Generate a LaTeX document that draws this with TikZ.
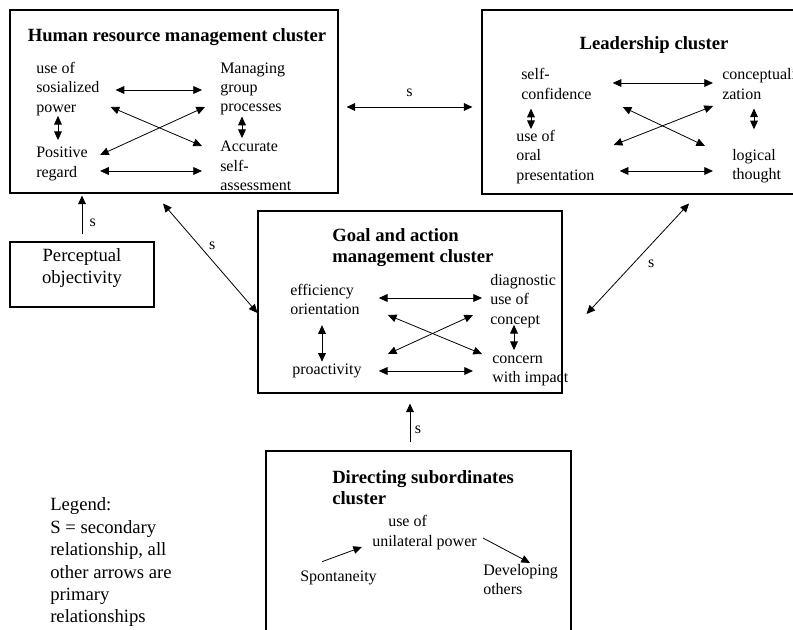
\documentclass[tikz,border=0pt]{standalone}
\usepackage{fontspec}
\setmainfont{Liberation Serif}
\usetikzlibrary{arrows.meta, calc, fit}

\begin{document}
\begin{tikzpicture}[x=0.75pt, y=-0.75pt,
    cluster/.style={rectangle, draw, line width=0.8pt, inner sep=0pt},
    head/.style={font=\bfseries\fontsize{14}{16}\selectfont, align=left, inner sep=0pt},
    item/.style={font=\fontsize{12}{14.5}\selectfont, align=left, inner sep=0pt, anchor=west},
    sec/.style={font=\fontsize{12}{14}\selectfont},
    twoway/.style={line width=0.6pt, {Triangle[length=6.5pt,width=5.8pt]}-{Triangle[length=6.5pt,width=5.8pt]}},
    oneway/.style={line width=0.6pt, -{Triangle[length=6.5pt,width=5.8pt]}}]
  \path[use as bounding box, fill=white] (0,0) rectangle (793,630);

  % Boxes
  \node (hrm) [cluster, fit={(10,10) (338,193)}] {};
  \node (ld) [cluster, fit={(482,10) (800,194)}] {};
  \node (goal) [cluster, fit={(258,211) (562,393)}] {};
  \node (dir) [cluster, fit={(266,451) (571,660)}] {};
  \node (perc) [cluster, fit={(10,242) (154,307)}, font=\fontsize{14}{16.5}\selectfont, align=center] {Perceptual\\objectivity};

  % Human resource management cluster
  \node (hrmtitle) [head] at (177,37) {Human resource management cluster};
  \node (usp) [item] at (36,89) {use of\\sosialized\\power};
  \node (mgp) [item] at (220,89) {Managing\\group\\processes};
  \node (pr) [item] at (36,164) {Positive\\regard};
  \node (acc) [item] at (220,166) {Accurate\\self-\\assessment};
  \draw[twoway] ($(usp.east)+(16,1)$) -- ($(mgp.west)+(-18,1)$);
  \draw[twoway] ($(pr.east)+(12,7)$) -- ($(acc.west)+(-18,5)$);
  \draw[twoway] ($(usp.south west)+(22,0)$) -- ($(pr.north west)+(22,-7)$);
  \draw[twoway] ($(mgp.south west)+(22,1)$) -- ($(acc.north west)+(22,-3)$);
  \draw[twoway] ($(usp.east)+(11,18)$) -- ($(acc.west)+(-18,-20)$);
  \draw[twoway] ($(mgp.west)+(-15,18)$) -- ($(pr.east)+(12,-9)$);

  % Leadership cluster
  \node (ldtitle) [head] at (654,45) {Leadership cluster};
  \node (sc) [item] at (521,84) {self-\\confidence};
  \node (oral) [item] at (516,157) {use of\\oral\\presentation};
  \node (conc) [item] at (722,84) {conceptuali-\\zation};
  \node (logic) [item] at (732,166.5) {logical\\thought};
  \draw[twoway] ($(sc.east)+(21,-1)$) -- ($(conc.west)+(-9,-1)$);
  \draw[twoway] ($(oral.east)+(25,14)$) -- ($(logic.west)+(-19,4.5)$);
  \draw[twoway] ($(sc.south west)+(10,9)$) -- ($(oral.north west)+(15,-1)$);
  \draw[twoway] ($(conc.south west)+(32,9)$) -- ($(logic.north west)+(22,-20)$);
  \draw[twoway] ($(sc.east)+(31,23)$) -- ($(logic.west)+(-27,-20.5)$);
  \draw[twoway] ($(conc.west)+(-9,22)$) -- ($(oral.east)+(19,-12)$);

  % Goal and action management cluster
  \node (goaltitle) [head, anchor=west] at (332,247.5) {Goal and action\\management cluster};
  \node (eff) [item] at (290,299.5) {efficiency\\orientation};
  \node (pro) [item] at (292,371) {proactivity};
  \node (diag) [item] at (490,301) {diagnostic\\use of\\concept};
  \node (imp) [item] at (492,371) {concern\\with impact};
  \draw[twoway] ($(eff.east)+(19,-1.5)$) -- ($(diag.west)+(-8,-3)$);
  \draw[twoway] ($(pro.east)+(17,0)$) -- ($(imp.west)+(-19,0)$);
  \draw[twoway] ($(eff.south west)+(32,10)$) -- ($(pro.north west)+(30,-2)$);
  \draw[twoway] ($(diag.south west)+(24,-3)$) -- ($(imp.north west)+(22,-5.5)$);
  \draw[twoway] ($(eff.east)+(28,15.5)$) -- ($(imp.west)+(-10,-17)$);
  \draw[twoway] ($(diag.west)+(-17,14)$) -- ($(pro.east)+(26,-17)$);

  % Directing subordinates cluster
  \node (dirtitle) [head, anchor=west] at (332,487.5) {Directing subordinates\\cluster};
  \node (uni) [item] at (372,532.5) {\hspace*{12pt}use of\\unilateral power};
  \node (spont) [item] at (300,578) {Spontaneity};
  \node (dev) [item] at (483,579.5) {Developing\\others};
  \draw[oneway] ($(spont.north west)+(22,-9)$) -- ($(uni.west)+(-10,14.5)$);
  \draw[oneway] ($(uni.east)+(6,5.5)$) -- ($(dev.north west)+(47,-1)$);

  % Secondary relationships
  \draw[twoway] ($(hrm.east)+(8,5.5)$) -- ($(ld.west)+(-9,5)$) node[midway, above=4pt, sec] {s};
  \draw[oneway] ($(perc.north)+(0,-7)$) -- ($(perc.north |- hrm.south)+(0,2)$) node[pos=0.3, right=2pt, sec] {s};
  \draw[twoway] ($(hrm.south)+(-11,10)$) -- ($(goal.west)+(0,11)$) node[pos=0.45, above right=-1pt, sec] {s};
  \draw[twoway] ($(ld.south)+(48,9)$) -- ($(goal.east)+(24,12)$) node[pos=0.55, right=8pt, sec] {s};
  \draw[oneway] ($(goal.south |- dir.north)+(0,-8)$) -- ($(goal.south)+(0,10)$) node[pos=0.33, right, sec] {s};

  % Legend
  \node (legend) [font=\fontsize{14}{16.8}\selectfont, align=left, inner sep=0pt, anchor=west] at (50,562.5) {Legend:\\S = secondary\\relationship, all\\other arrows are\\primary\\relationships};
\end{tikzpicture}
\end{document}
